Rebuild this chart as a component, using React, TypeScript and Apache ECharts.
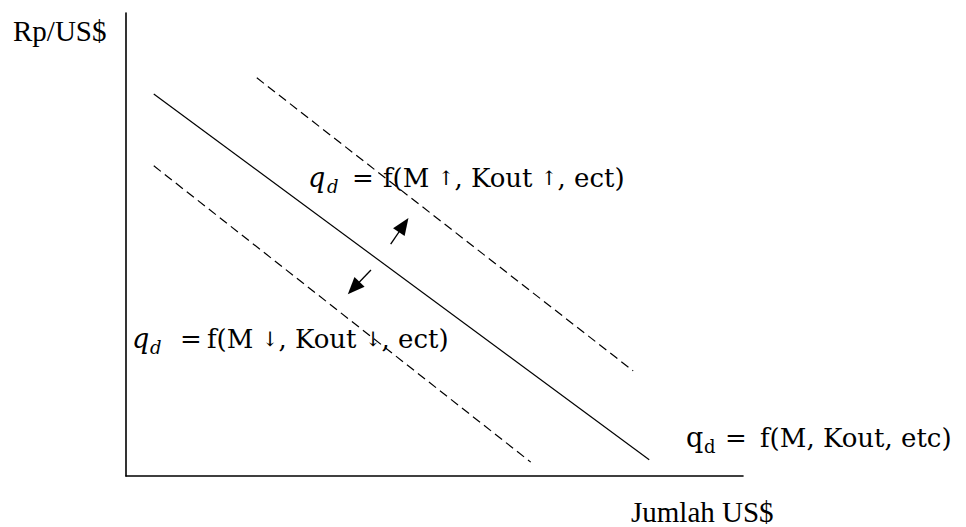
import React, { useEffect, useRef } from "react";
import * as echarts from "echarts";

// Demand curves for US$ (price Rp/US$ vs quantity), in axis units 0..100
const demandBase: number[][] = [
  [4.5, 82.5],
  [84.8, 3.5],
];
const demandUp: number[][] = [
  [21.2, 86.0],
  [82.2, 22.7],
];
const demandDown: number[][] = [
  [4.5, 67.0],
  [65.6, 3.0],
];
// Shift arrows: [tail, head]
const shiftArrows: number[][][] = [
  [
    [42.9, 50.1],
    [45.0, 54.2],
  ],
  [
    [39.7, 44.5],
    [36.9, 40.6],
  ],
];

const axisTitleY = "Rp/US$";
const axisTitleX = "Jumlah US$";
const labelUp = "f(M {a|↑}, Kout {a|↑}, ect)";
const labelDown = "f(M {a|↓}, Kout {a|↓}, ect)";
const labelBase = "f(M, Kout, etc)";

const SERIF = "'Liberation Serif', 'Times New Roman', serif";
const MATH = "'DejaVu Serif', serif";

function mathLabel(
  x: number,
  baseline: number,
  opts: { italic: boolean; dX: number; eqX: number; fX: number; body: string }
) {
  const fs = 26;
  const mid = (b: number, s: number) => b - 0.35 * s;
  const style = { fill: "#000", fontFamily: MATH, fontSize: fs, verticalAlign: "middle" as const, align: "left" as const };
  return [
    {
      type: "text",
      x,
      y: mid(baseline, 27),
      style: { ...style, text: "q", fontSize: 27, fontStyle: opts.italic ? "italic" : "normal" },
    },
    {
      type: "text",
      x: opts.dX,
      y: mid(baseline + 6, 18),
      style: { ...style, text: "d", fontSize: 18, fontStyle: opts.italic ? "italic" : "normal" },
    },
    {
      type: "text",
      x: opts.eqX,
      y: mid(baseline, fs),
      style: { ...style, text: "=" },
    },
    {
      type: "text",
      x: opts.fX,
      y: mid(baseline, fs),
      style: {
        ...style,
        text: opts.body,
        rich: { a: { fontFamily: MATH, fontSize: 20, fill: "#000", verticalAlign: "middle" } },
      },
    },
  ];
}

export default function App() {
  const ref = useRef<HTMLDivElement>(null);

  useEffect(() => {
    if (!ref.current) return;
    const chart = echarts.init(ref.current, null, { renderer: "svg" });

    const curve = (name: string, data: number[][], dashed: boolean) => ({
      name,
      type: "line",
      data,
      showSymbol: false,
      symbol: "none",
      silent: true,
      lineStyle: { color: "#000", width: 1.2, type: dashed ? [9, 5] : "solid" },
      z: 3,
    });

    chart.setOption({
      animation: false,
      backgroundColor: "#fff",
      grid: { left: 126, right: 223, top: 13, bottom: 51, containLabel: false },
      xAxis: {
        type: "value",
        min: 0,
        max: 100,
        axisLine: { show: true, lineStyle: { color: "#000", width: 1.6 } },
        axisTick: { show: false },
        axisLabel: { show: false },
        splitLine: { show: false },
      },
      yAxis: {
        type: "value",
        min: 0,
        max: 100,
        axisLine: { show: true, lineStyle: { color: "#000", width: 1.6 } },
        axisTick: { show: false },
        axisLabel: { show: false },
        splitLine: { show: false },
      },
      series: [
        curve("base", demandBase, false),
        curve("up", demandUp, true),
        curve("down", demandDown, true),
        {
          name: "shift",
          type: "line",
          data: [],
          silent: true,
          markLine: {
            silent: true,
            symbol: ["none", "triangle"],
            symbolSize: [14, 17],
            label: { show: false },
            lineStyle: { color: "#000", width: 1.3, type: "solid" },
            itemStyle: { color: "#000" },
            emphasis: { disabled: true },
            data: shiftArrows.map(([a, b]) => [{ coord: a }, { coord: b }]),
          },
        },
      ],
      graphic: [
        {
          type: "text",
          x: 13,
          y: 31,
          style: { text: axisTitleY, fill: "#000", fontFamily: SERIF, fontSize: 29, verticalAlign: "middle", align: "left" },
        },
        {
          type: "text",
          x: 631,
          y: 512,
          style: { text: axisTitleX, fill: "#000", fontFamily: SERIF, fontSize: 29, verticalAlign: "middle", align: "left" },
        },
        ...mathLabel(308, 187, { italic: true, dX: 327, eqX: 352, fX: 383, body: labelUp }),
        ...mathLabel(132, 348, { italic: true, dX: 150, eqX: 180, fX: 207, body: labelDown }),
        ...mathLabel(686, 447, { italic: false, dX: 704, eqX: 725, fX: 760, body: labelBase }),
      ],
    });

    return () => chart.dispose();
  }, []);

  return (
    <div
      ref={ref}
      style={{ position: "fixed", left: 0, top: 0, width: 966, height: 527, background: "#fff" }}
    />
  );
}
